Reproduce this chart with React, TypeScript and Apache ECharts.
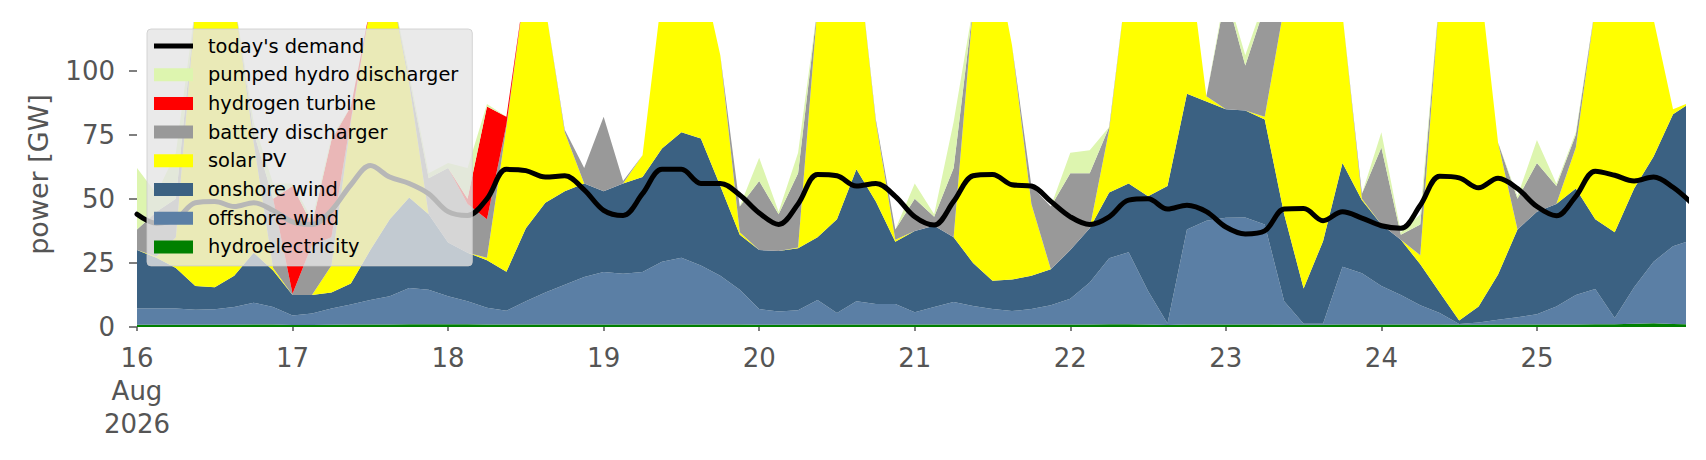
import React, { useEffect, useRef } from 'react';
import * as echarts from 'echarts';

// hours since 16 Aug 2026 00:00 (3-hourly samples)
const HOURS = [
  0, 3, 6, 9, 12, 15, 18, 21, 24, 27, 30, 33, 36, 39, 42, 45, 48, 51, 54, 57,
  60, 63, 66, 69, 72, 75, 78, 81, 84, 87, 90, 93, 96, 99, 102, 105, 108, 111, 114, 117,
  120, 123, 126, 129, 132, 135, 138, 141, 144, 147, 150, 153, 156, 159, 162, 165, 168, 171, 174, 177,
  180, 183, 186, 189, 192, 195, 198, 201, 204, 207, 210, 213, 216, 219, 222, 225, 228, 231, 234, 237,
  240,
];

const Y_TICKS = [0, 25, 50, 75, 100];

const hydroelectricity = [
  0.9, 0.9, 0.9, 0.9, 0.9, 0.9, 1.0, 1.0, 0.8, 0.8,
  0.9, 1.0, 1.0, 1.0, 1.1, 1.1, 1.1, 1.1, 1.0, 1.0,
  1.0, 1.0, 1.0, 1.0, 1.0, 1.0, 1.0, 1.0, 1.0, 1.0,
  1.0, 1.0, 0.9, 0.9, 0.9, 1.0, 1.0, 1.0, 1.0, 1.0,
  1.0, 1.0, 1.0, 1.0, 1.0, 1.0, 1.0, 1.0, 1.0, 1.0,
  1.1, 1.1, 1.0, 0.8, 1.0, 1.0, 1.0, 1.0, 1.0, 0.9,
  0.9, 0.9, 1.0, 1.0, 1.0, 1.0, 1.0, 1.0, 0.9, 0.9,
  1.0, 1.0, 1.0, 1.0, 1.0, 1.1, 1.1, 1.3, 1.5, 1.2,
  1.0,
];

const offshoreWind = [
  6.3, 6.3, 6.3, 5.8, 6.0, 6.9, 8.5, 6.8, 3.7, 4.5,
  6.3, 7.8, 9.5, 11, 14.1, 13.4, 10.9, 8.9, 6.5, 5.3,
  9, 12.5, 15.5, 18.5, 20.5, 19.8, 20.5, 24.5, 26, 23,
  19, 13.5, 6.1, 5.1, 5.6, 9.5, 4.5, 9, 8, 8,
  4.8, 6.8, 8.8, 7.2, 6, 5.2, 6, 7.5, 10, 16.4,
  25.7, 28.1, 13, 0.6, 37, 40.5, 41.6, 41.7, 39, 9.1,
  0.4, 0.4, 22.5, 20, 15, 11.5, 7.5, 4.5, 0.3, 0.9,
  1.8, 2.8, 4, 7, 11.5, 13.7, 2.4, 14.2, 24, 30.3,
  33,
];

const onshoreWind = [
  22.8, 19.8, 15.8, 9.3, 8.6, 12.2, 19.5, 14.2, 8, 7.2,
  6.3, 8.2, 19.5, 30, 35.3, 29.5, 21, 19, 18.5, 15.3,
  28.5, 35, 36.5, 36.5, 31.5, 35.2, 37, 44.1, 49, 49.5,
  35, 21.5, 23, 23.7, 24.2, 24.5, 36.5, 51.5, 40, 24.3,
  31.7, 31.7, 25.2, 16.8, 11, 12.3, 13, 14, 19, 21.1,
  25.7, 26.8, 37, 53.6, 53, 46.5, 42.4, 41.8, 41, 34,
  13.7, 32.2, 40.5, 28.5, 24, 21.5, 16, 8, 1.3, 6.2,
  17.7, 34.2, 40, 40, 41.5, 27.2, 33.5, 38.5, 41, 51.5,
  54,
];

const solarPV = [
  0, 0.5, 12, 109, 124.5, 108, 43, 1, 0, 0,
  10.5, 63, 95, 93, 44.5, 0, 0, 0, 1, 56.4,
  96.5, 76.5, 23, 0, 0, 0, 8.5, 60.4, 74, 66.5,
  51, 1, 0, 0, 0.3, 90, 108, 88.5, 31, 0.7,
  0, 0, 0, 100, 132, 91.5, 28, 0, 0, 0,
  24.5, 84, 99, 95, 59, 2, 0, 0, 1, 81,
  120, 106.5, 58, 0.5, 0, 0, 3.5, 116.5, 137.5, 132,
  51.5, 0, 0, 0, 16, 83, 103, 96, 53.5, 2,
  0,
];

const batteryDischarger = [
  8, 17.5, 15, 0, 0, 0, 4, 27, 0.5, 19.5,
  11, 1, 0, 0, 2, 14, 29, 19, 15, 1,
  0, 0, 1, 6, 29, 1, 0, 0, 0, 0,
  0, 10, 27, 14.3, 29, 0, 0, 0, 1, 4,
  12.5, 3.5, 27, 0, 0, 0, 7, 24.5, 30, 21.5,
  1, 0, 0, 0, 0, 0, 45, 17.5, 43, 0,
  0, 0, 0, 2, 30, 2, 12, 0, 0, 0,
  0, 12, 19, 7, 5, 0, 0, 0, 0, 0,
  0,
];

const hydrogenTurbine = [
  0, 0, 0, 0, 0, 0, 0, 0, 42, 8,
  38, 5, 0, 0, 0, 0, 0, 2, 44, 3,
  0, 0, 0, 0, 0, 0, 0, 0, 0, 0,
  0, 0, 0, 0, 0, 0, 0, 0, 0, 0,
  0, 0, 0, 0, 0, 0, 0, 0, 0, 0,
  0, 0, 0, 0, 0, 0, 0, 0, 0, 0,
  0, 0, 0, 0, 0, 0, 0, 0, 0, 0,
  0, 0, 0, 0, 0, 0, 0, 0, 0, 0,
  0,
];

const pumpedHydroDischarger = [
  24, 7, 18, 0, 0, 0, 4, 6, 1, 2,
  1, 0, 0, 0, 2, 2, 2, 12, 1, 0,
  0, 0, 0, 0, 0, 0, 0, 0, 0, 0,
  0, 0, 9, 1, 8, 0, 0, 0, 0, 0,
  6, 1, 18, 0, 0, 0, 0, 0, 8, 9,
  0, 0, 0, 0, 0, 0, 2, 4, 3, 0,
  0, 0, 0, 0, 6, 1, 4, 0, 0, 0,
  0, 1, 9, 1, 1, 0, 0, 0, 0, 0,
  0,
];

const todaysDemand = [
  44, 40.5, 42, 48.5, 49, 47, 48.5, 45.5, 41, 40,
  45.5, 55.5, 63, 58.5, 56, 52, 45, 43.5, 50, 61.5,
  61, 58.5, 59, 53.5, 45.5, 43.5, 52, 61.5, 61.5, 56,
  56, 51.5, 44.5, 40, 48, 59.5, 59, 55, 56, 51,
  43, 39.8, 49, 59, 59.5, 55.5, 55, 49, 43, 40,
  43, 49.5, 50, 46, 47.5, 45, 39, 36.3, 37.5, 46,
  46.2, 41.5, 45, 42.5, 39.5, 38.5, 47.5, 58.8, 58.2, 54.3,
  58, 54, 47, 43.4, 51, 60.8, 59.2, 57, 58.5, 54.5,
  48,
];

const START = Date.UTC(2026, 7, 16, 0, 0, 0);
const HOUR_MS = 3600 * 1000;
const DAY_MS = 24 * HOUR_MS;
const END_HOUR = 239;
const MONTHS = ['Jan', 'Feb', 'Mar', 'Apr', 'May', 'Jun', 'Jul', 'Aug', 'Sep', 'Oct', 'Nov', 'Dec'];

const COLORS = {
  hydro: '#008000',
  offshore: '#5b7fa5',
  onshore: '#3b6182',
  solar: '#ffff00',
  battery: '#999999',
  hydrogen: '#ff0000',
  pumped: '#ddf5af',
  demand: '#000000',
};

const FONT = 'DejaVu Sans';

export default function App() {
  const ref = useRef<HTMLDivElement>(null);

  useEffect(() => {
    document.body.style.margin = '0';
    if (!ref.current) return;
    const chart = echarts.init(ref.current, undefined, { renderer: 'svg' });

    const toPairs = (vals: number[]) => HOURS.map((h, i) => [START + h * HOUR_MS, vals[i]]);

    const area = (name: string, vals: number[], color: string) => ({
      name,
      type: 'line',
      stack: 'supply',
      data: toPairs(vals),
      symbol: 'none',
      showSymbol: false,
      color,
      lineStyle: { width: 0 },
      areaStyle: { color, opacity: 1 },
      emphasis: { disabled: true },
      z: 2,
    });

    const option: any = {
      animation: false,
      useUTC: true,
      textStyle: { fontFamily: FONT },
      grid: { left: 137, right: 20, top: 22, bottom: 133, containLabel: false },
      legend: {
        orient: 'vertical',
        left: 147,
        top: 29,
        padding: [7, 14, 9, 7],
        backgroundColor: 'rgba(229,229,229,0.8)',
        borderColor: 'rgba(204,204,204,0.8)',
        borderWidth: 1,
        borderRadius: 4,
        itemWidth: 39,
        itemHeight: 13,
        itemGap: 8.7,
        itemStyle: { borderWidth: 0 },
        textStyle: { fontSize: 19.4, color: '#000', fontFamily: FONT, lineHeight: 20, padding: [0, 0, 0, 10] },
        selectedMode: false,
        data: [
          { name: "today's demand", icon: 'path://M0,0H40V5H0Z', itemStyle: { color: COLORS.demand } },
          { name: 'pumped hydro discharger', icon: 'rect', itemStyle: { color: COLORS.pumped } },
          { name: 'hydrogen turbine', icon: 'rect', itemStyle: { color: COLORS.hydrogen } },
          { name: 'battery discharger', icon: 'rect', itemStyle: { color: COLORS.battery } },
          { name: 'solar PV', icon: 'rect', itemStyle: { color: COLORS.solar } },
          { name: 'onshore wind', icon: 'rect', itemStyle: { color: COLORS.onshore } },
          { name: 'offshore wind', icon: 'rect', itemStyle: { color: COLORS.offshore } },
          { name: 'hydroelectricity', icon: 'rect', itemStyle: { color: COLORS.hydro } },
        ],
      },
      xAxis: {
        type: 'time',
        min: START,
        max: START + END_HOUR * HOUR_MS,
        minInterval: DAY_MS,
        maxInterval: DAY_MS,
        axisLine: { show: false },
        splitLine: { show: false },
        axisTick: {
          show: true,
          length: 4,
          lineStyle: { color: '#555', width: 1.5 },
        },
        axisLabel: {
          color: '#555',
          fontSize: 26,
          lineHeight: 33,
          margin: 14,
          fontFamily: FONT,
          showMinLabel: true,
          showMaxLabel: false,
          hideOverlap: false,
          formatter: (v: number) => {
            const d = new Date(v);
            if (d.getUTCHours() !== 0) return '';
            const day = d.getUTCDate();
            if (v === START) return `${day}\n${MONTHS[d.getUTCMonth()]}\n${d.getUTCFullYear()}`;
            return String(day);
          },
        },
      },
      yAxis: {
        type: 'value',
        min: 0,
        max: 119,
        name: 'power [GW]',
        nameLocation: 'middle',
        nameGap: 85,
        nameTextStyle: { fontSize: 27, color: '#555', fontFamily: FONT },
        axisLine: { show: false },
        splitLine: { show: false },
        axisTick: {
          show: true,
          length: 8,
          customValues: Y_TICKS,
          lineStyle: { color: '#555', width: 1.5 },
        },
        axisLabel: {
          customValues: Y_TICKS,
          color: '#555',
          fontSize: 26,
          margin: 22,
          fontFamily: FONT,
        },
      },
      series: [
        area('hydroelectricity', hydroelectricity, COLORS.hydro),
        area('offshore wind', offshoreWind, COLORS.offshore),
        area('onshore wind', onshoreWind, COLORS.onshore),
        area('solar PV', solarPV, COLORS.solar),
        area('battery discharger', batteryDischarger, COLORS.battery),
        area('hydrogen turbine', hydrogenTurbine, COLORS.hydrogen),
        area('pumped hydro discharger', pumpedHydroDischarger, COLORS.pumped),
        {
          name: "today's demand",
          type: 'line',
          data: toPairs(todaysDemand),
          symbol: 'none',
          showSymbol: false,
          smooth: 0.35,
          color: COLORS.demand,
          lineStyle: { width: 5, color: COLORS.demand, cap: 'round', join: 'round' },
          emphasis: { disabled: true },
          z: 3,
        },
      ],
    };

    chart.setOption(option);
    return () => chart.dispose();
  }, []);

  return <div ref={ref} style={{ width: 1706, height: 460 }} />;
}
